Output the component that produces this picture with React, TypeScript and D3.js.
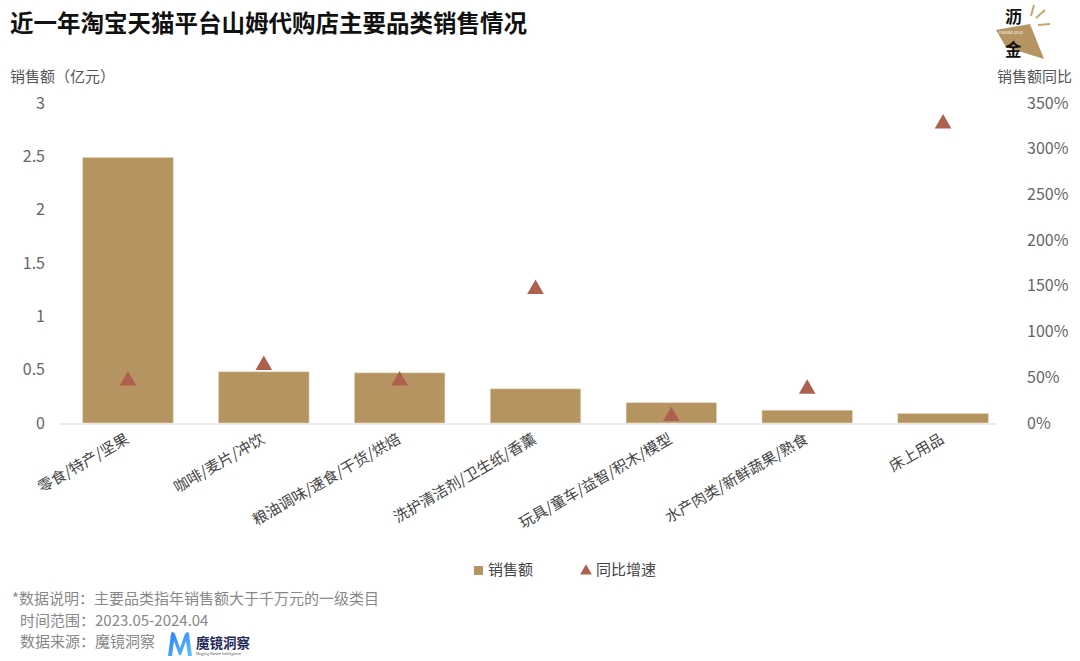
import React from "react";
import * as d3 from "d3";

const categories = [
  "零食/特产/坚果",
  "咖啡/麦片/冲饮",
  "粮油调味/速食/干货/烘焙",
  "洗护清洁剂/卫生纸/香薰",
  "玩具/童车/益智/积木/模型",
  "水产肉类/新鲜蔬果/熟食",
  "床上用品",
];
const salesValues = [2.49, 0.48, 0.47, 0.32, 0.19, 0.12, 0.09];
const growthValues = [0.48, 0.65, 0.48, 1.48, 0.09, 0.39, 3.29];
const leftTicks = [0, 0.5, 1, 1.5, 2, 2.5, 3];
const rightTicks = [0, 0.5, 1, 1.5, 2, 2.5, 3, 3.5];

const W = 1080;
const H = 661;
const FONT = "'Noto Sans CJK SC', 'Noto Sans', sans-serif";
const BAR = "#b59462";
const TRI = "#ae604e";

export default function App() {
  const x = d3.scaleBand<string>().domain(categories).range([60, 1011]).paddingInner(1 / 3).paddingOuter(1 / 6);
  const yL = d3.scaleLinear().domain([0, 3]).range([423, 103]);
  const yR = d3.scaleLinear().domain([0, 3.5]).range([423, 103]);
  const tri = d3.symbol().type(d3.symbolTriangle).size(120)();

  return (
    <svg width={W} height={H} style={{ position: "absolute", left: 0, top: 0, background: "#fff", fontFamily: FONT }}>
      <rect width={W} height={H} fill="#fff" />
      <text x={10} y={32} fontSize={23.5} fontWeight={700} fill="#111">近一年淘宝天猫平台山姆代购店主要品类销售情况</text>

      {/* top-right logo */}
      <g>
        <polygon points="996,30 1030,24 1044,59 1006,47" fill="#b59462" />
        <line x1={1031} y1={16} x2={1034} y2={5} stroke="#c9a66b" strokeWidth={2} />
        <line x1={1036} y1={18} x2={1045} y2={10} stroke="#c9a66b" strokeWidth={2} />
        <line x1={1038} y1={25} x2={1050} y2={24} stroke="#c9a66b" strokeWidth={2} />
        <text x={1005} y={23} fontSize={17} fontWeight={700} fill="#111">沥</text>
        <text x={999} y={34} fontSize={3.5} fill="#fff">FINDING GOLD</text>
        <text x={1005} y={56} fontSize={16.5} fontWeight={700} fill="#111">金</text>
      </g>

      <text x={10} y={82} fontSize={15} fill="#555">销售额（亿元）</text>
      <text x={997} y={82} fontSize={15} fill="#555">销售额同比</text>

      {leftTicks.map((t) => (
        <text key={"l" + t} x={45} y={yL(t)} dy="0.35em" textAnchor="end" fontSize={16} fill="#666">{d3.format("~g")(t)}</text>
      ))}
      {rightTicks.map((t) => (
        <text key={"r" + t} x={1027} y={yR(t)} dy="0.35em" textAnchor="start" fontSize={16} fill="#666">{Math.round(t * 100) + "%"}</text>
      ))}

      <line x1={60} x2={997} y1={424} y2={424} stroke="#ececec" strokeWidth={2} />

      {categories.map((c, i) => (
        <rect key={"b" + c} x={x(c)} y={yL(salesValues[i])} width={x.bandwidth()} height={yL(0) - yL(salesValues[i])} fill={BAR} stroke="#e8d9c0" strokeWidth={0.6} />
      ))}
      {categories.map((c, i) => (
        <path key={"t" + c} d={tri as string} transform={`translate(${(x(c) as number) + x.bandwidth() / 2},${yR(growthValues[i]) + 1.5})`} fill={TRI} />
      ))}

      {categories.map((c) => (
        <text key={"x" + c} transform={`translate(${(x(c) as number) + x.bandwidth() / 2 + 2},${442}) rotate(-30)`} textAnchor="end" fontSize={15} fill="#444">{c}</text>
      ))}

      {/* legend */}
      <rect x={474} y={566} width={9} height={9} fill={BAR} />
      <text x={488} y={575} fontSize={15} fill="#444">销售额</text>
      <path d={d3.symbol().type(d3.symbolTriangle).size(60)() as string} transform="translate(586,571)" fill={TRI} />
      <text x={596} y={575} fontSize={15} fill="#444">同比增速</text>

      {/* footnotes */}
      <text x={12} y={604} fontSize={15} fill="#888">*数据说明：主要品类指年销售额大于千万元的一级类目</text>
      <text x={20} y={626} fontSize={15} fill="#888">时间范围：2023.05-2024.04</text>
      <text x={20} y={647} fontSize={15} fill="#888">数据来源：魔镜洞察</text>
      <g>
        <defs>
          <linearGradient id="mg" x1="0" y1="0" x2="1" y2="1">
            <stop offset="0" stopColor="#2f7bff" />
            <stop offset="1" stopColor="#59c3ff" />
          </linearGradient>
        </defs>
        <path d="M168,656 L171,634 Q172,630 175,634 L180,648 L185,634 Q188,630 189,634 L192,656 L188,656 L186,641 L181,655 L179,655 L174,641 L172,656 Z" fill="url(#mg)" />
        <text x={196} y={648} fontSize={13.5} fontWeight={700} fill="#1f2a5a">魔镜洞察</text>
        <text x={196} y={655} fontSize={3.5} fill="#555">Mogjing Market Intelligence</text>
      </g>
    </svg>
  );
}
